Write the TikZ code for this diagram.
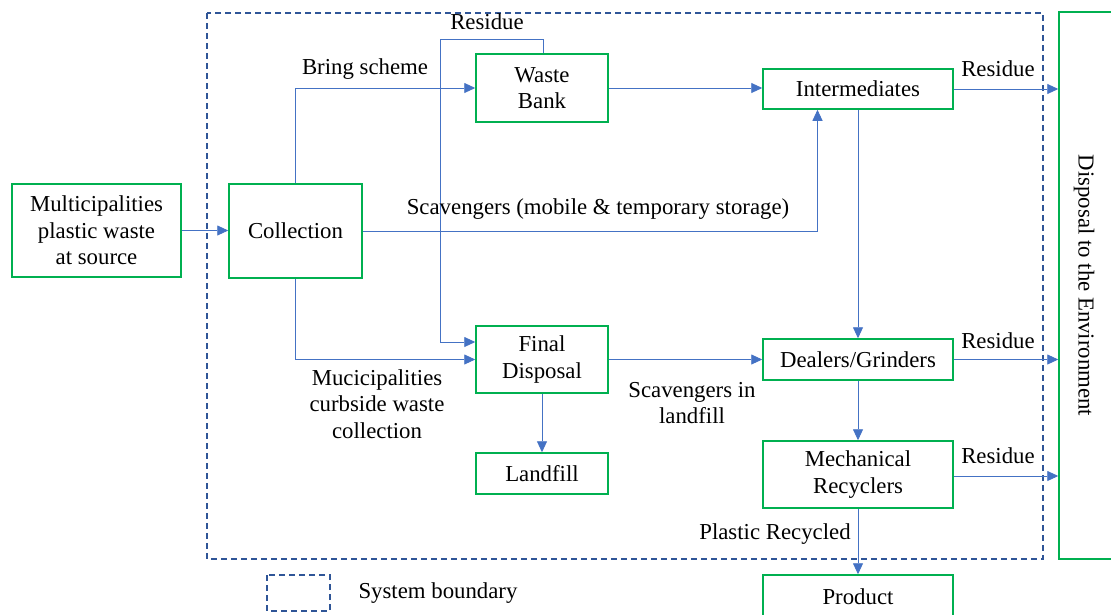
\documentclass[tikz,border=0pt]{standalone}
\usepackage{fontspec}
\setmainfont{Liberation Serif}
\usetikzlibrary{arrows.meta}
\definecolor{boxgreen}{HTML}{00B050}
\definecolor{arrblue}{HTML}{4472C4}
\definecolor{bnd}{HTML}{2F5597}
\newcommand{\fsz}{\fontsize{22.8}{26.5}\selectfont}
\begin{document}
\begin{tikzpicture}[x=1pt,y=-1pt,
  box/.style={draw=boxgreen, line width=1.5pt, align=center, inner sep=0pt, font=\fsz},
  arr/.style={draw=arrblue, line width=0.9pt, -{Triangle[length=11pt,width=10pt]}},
  lbl/.style={font=\fsz, align=center, inner sep=0pt},
  bound/.style={draw=bnd, line width=1.3pt, dash pattern=on 6pt off 4pt}]
\useasboundingbox (0,0) rectangle (1111,614);
\clip (0,0) rectangle (1111,614);
% boundary
\draw[bound] (207,13) rectangle (1043,559);
\draw[bound] (267,575) rectangle (330,611);
\node[lbl] (leg) at (438,593) {System boundary};
% boxes
\node[box, minimum width=169pt, minimum height=93pt] (src) at (96.5,230.5) {Multicipalities\\plastic waste\\at source};
\node[box, minimum width=133pt, minimum height=94pt] (col) at (295.5,231) {Collection};
\node[box, minimum width=132pt, minimum height=68pt] (wb) at (542,88) {Waste\\Bank};
\node[box, minimum width=190pt, minimum height=40pt] (inter) at (858,89) {Intermediates};
\node[box, minimum width=132pt, minimum height=67pt] (fd) at (542,359.5) {Final\\Disposal};
\node[box, minimum width=132pt, minimum height=41pt] (lf) at (542,473.5) {Landfill};
\node[box, minimum width=190pt, minimum height=41pt] (dg) at (858,359.5) {Dealers/Grinders};
\node[box, minimum width=190pt, minimum height=67pt] (mr) at (858,474.5) {Mechanical\\Recyclers};
\node[box, minimum width=190pt, minimum height=44pt] (prod) at (858,597) {Product};
\node[box, minimum width=60pt, minimum height=547pt] (env) at (1089,285.5) {};
\node[lbl, rotate=-90] (envt) at (1084,285.5) {Disposal to the Environment};
% coordinates
\coordinate (rtop) at (440,39);
% connectors
\draw[arr] (src.east) -- (src.east -| col.west);
\draw[arr] (col.north) |- (wb.west);
\draw[arr] ([xshift=1pt]wb.north) |- (rtop) |- ([yshift=17.5pt]fd.west);
\draw[arr] (col.east) -| ([xshift=-40.5pt]inter.south);
\draw[arr] (col.south) |- (fd.west);
\draw[arr] (wb.east) -- (wb.east -| inter.west);
\draw[arr] (inter.south) -- (dg.north);
\draw[arr] (fd.east) -- (dg.west);
\draw[arr] (fd.south) -- (lf.north);
\draw[arr] (dg.south) -- (mr.north);
\draw[arr] (mr.south) -- (prod.north);
\draw[arr] (inter.east) -- (inter.east -| env.west);
\draw[arr] (dg.east) -- (dg.east -| env.west);
\draw[arr] ([yshift=-1.5pt]mr.east) -- ([yshift=-1.5pt]mr.east -| env.west);
% labels
\node[lbl] (lbring) at (365,69) {Bring scheme};
\node[lbl] (lres0) at (487,22) {Residue};
\node[lbl] (lscav) at (598,209) {Scavengers (mobile \& temporary storage)};
\node[lbl] (lcurb) at (377,404) {Mucicipalities\\curbside waste\\collection};
\node[lbl] (lland) at (692,403) {Scavengers in\\landfill};
\node[lbl] (lres1) at (998,69) {Residue};
\node[lbl] (lres2) at (998,341) {Residue};
\node[lbl] (lres3) at (998,456) {Residue};
\node[lbl] (lplas) at (775,534) {Plastic Recycled};
\end{tikzpicture}
\end{document}
